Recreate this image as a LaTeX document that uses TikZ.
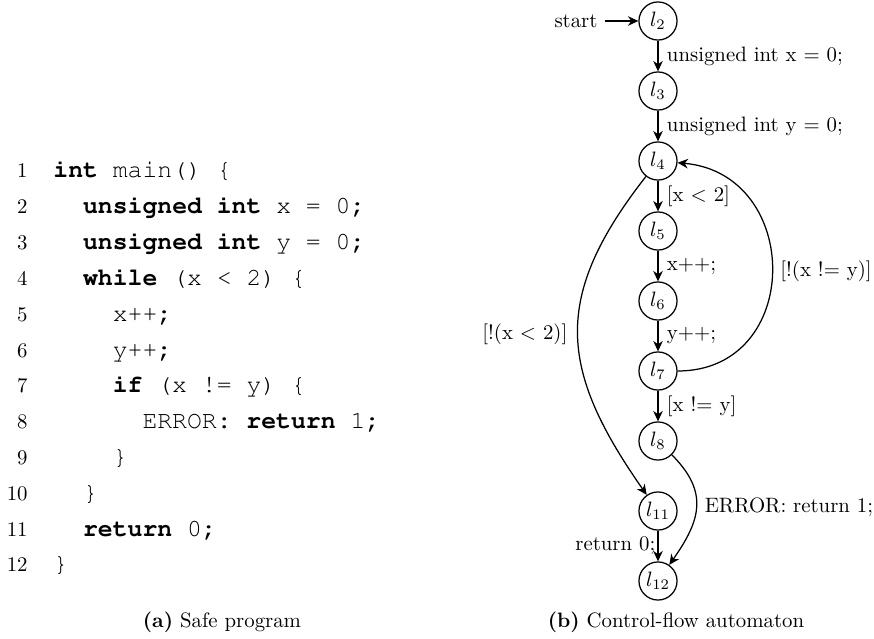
\documentclass[tikz,border=0pt]{standalone}
\usepackage[T1]{fontenc}
\usepackage{fontspec}
\newcommand\codefont{\fontencoding{T1}\fontfamily{pcr}\selectfont}
\usetikzlibrary{arrows.meta}
\newcommand\codekw[1]{\textbf{#1}}
\begin{document}
\begin{tikzpicture}[x=0.48055pt, y=0.48055pt,
  >={Stealth[length=5pt,width=4.6pt,inset=1.6pt]},
  locnode/.style={circle, draw, semithick, minimum size=18.3pt, inner sep=0pt, font=\fontsize{10}{12}\selectfont},
  lab/.style={inner sep=1pt, font=\fontsize{10}{12}\selectfont},
  flow/.style={->, semithick},
  lnum/.style={anchor=base east, inner sep=0pt, font=\fontsize{10}{12}\selectfont},
  codeline/.style={anchor=base west, inner sep=0pt, font=\codefont\fontsize{11.9}{14}\selectfont},
  captxt/.style={anchor=base, inner sep=0pt, font=\fontsize{10}{12}\selectfont}]
\useasboundingbox (0,0) rectangle (874,-639);

% ---- code listing ----
\node[lnum] (n1)  at (28,-178.0) {1};
\node[lnum] (n2)  at (28,-213.8) {2};
\node[lnum] (n3)  at (28,-249.6) {3};
\node[lnum] (n4)  at (28,-285.4) {4};
\node[lnum] (n5)  at (28,-321.2) {5};
\node[lnum] (n6)  at (28,-357.0) {6};
\node[lnum] (n7)  at (28,-392.8) {7};
\node[lnum] (n8)  at (28,-428.6) {8};
\node[lnum] (n9)  at (28,-464.4) {9};
\node[lnum] (n10) at (28,-500.2) {10};
\node[lnum] (n11) at (28,-536.0) {11};
\node[lnum] (n12) at (28,-571.8) {12};

\node[codeline] (c1)  at (53.0,-178.0)  {\codekw{int} main() \{};
\node[codeline] (c2)  at (82.7,-213.8)  {\codekw{unsigned int} x = 0\codekw{;}};
\node[codeline] (c3)  at (82.7,-249.6)  {\codekw{unsigned int} y = 0\codekw{;}};
\node[codeline] (c4)  at (82.7,-285.4)  {\codekw{while} (x < 2) \{};
\node[codeline] (c5)  at (112.4,-321.2) {x++\codekw{;}};
\node[codeline] (c6)  at (112.4,-357.0) {y++\codekw{;}};
\node[codeline] (c7)  at (112.4,-392.8) {\codekw{if} (x != y) \{};
\node[codeline] (c8)  at (142.1,-428.6) {ERROR\codekw{:} \codekw{return} 1\codekw{;}};
\node[codeline] (c9)  at (112.4,-464.4) {\}};
\node[codeline] (c10) at (82.7,-500.2)  {\}};
\node[codeline] (c11) at (82.7,-536.0)  {\codekw{return} 0\codekw{;}};
\node[codeline] (c12) at (53.0,-571.8)  {\}};

\node[captxt] (capa) at (222,-627) {\textbf{(a)} Safe program};

% ---- control-flow automaton ----
\node[locnode] (l2)  at (658,-21)  {$l_{2}$};
\node[locnode] (l3)  at (658,-91)  {$l_{3}$};
\node[locnode] (l4)  at (658,-161) {$l_{4}$};
\node[locnode] (l5)  at (658,-231) {$l_{5}$};
\node[locnode] (l6)  at (658,-301) {$l_{6}$};
\node[locnode] (l7)  at (658,-371) {$l_{7}$};
\node[locnode] (l8)  at (658,-441) {$l_{8}$};
\node[locnode] (l11) at (658,-511) {$l_{11}$};
\node[locnode] (l12) at (658,-581) {$l_{12}$};

\node[font=\fontsize{10}{12}\selectfont] (start) at (576,-21) {start};
\draw[flow] (start) -- (l2);

\draw[flow] (l2) -- node[lab, right=3pt] (t23) {unsigned int x = 0;} (l3);
\draw[flow] (l3) -- node[lab, right=3pt] (t34) {unsigned int y = 0;} (l4);
\draw[flow] (l4) -- node[lab, right=3pt] (t45) {[x $<$ 2]} (l5);
\draw[flow] (l5) -- node[lab, right=3pt] (t56) {x++;} (l6);
\draw[flow] (l6) -- node[lab, right=3pt] (t67) {y++;} (l7);
\draw[flow] (l7) -- node[lab, right=3pt] (t78) {[x != y]} (l8);
\draw[flow] (l11) -- node[lab, left] (t1112) {return 0;} (l12);

\draw[flow] (l7) to[out=0, in=-5, looseness=1.55]
  node[lab, pos=0.5, right=2.8pt] (t74) {[!(x != y)]} (l4);
\draw[flow] (l4) to[out=-128, in=125, looseness=1.23]
  node[lab, pos=0.5, left=3.8pt] (t411) {[!(x $<$ 2)]} (l11);
\draw[flow] (l8) to[out=-45, in=55, looseness=1.24]
  node[lab, pos=0.5, right=2.8pt] (t812) {ERROR: return 1;} (l12);

\node[captxt] (capb) at (676,-627) {\textbf{(b)} Control-flow automaton};
\end{tikzpicture}
\end{document}
